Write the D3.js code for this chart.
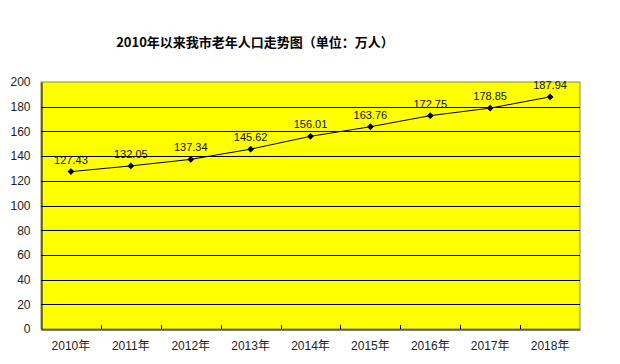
<!DOCTYPE html>
<html>
<head>
<meta charset="utf-8">
<script src="https://cdn.jsdelivr.net/npm/d3@7"></script>
<style>
html,body{margin:0;padding:0;background:#fff;}
svg{display:block;}
</style>
</head>
<body>
<svg id="chart" width="620" height="364"></svg>
<script>
const title = "2010年以来我市老年人口走势图（单位：万人）";
const categories = ["2010年","2011年","2012年","2013年","2014年","2015年","2016年","2017年","2018年"];
const values = [127.43, 132.05, 137.34, 145.62, 156.01, 163.76, 172.75, 178.85, 187.94];
const valueLabels = ["127.43","132.05","137.34","145.62","156.01","163.76","172.75","178.85","187.94"];
const yTicks = [0,20,40,60,80,100,120,140,160,180,200];

const svg = d3.select("#chart");
const m = {left:41, right:580, top:82, bottom:329};

const x = d3.scaleBand().domain(categories).range([m.left, m.right]).padding(0);
const y = d3.scaleLinear().domain([0,200]).range([m.bottom, m.top]);

svg.append("text").attr("x",255).attr("y",47).attr("text-anchor","middle")
  .attr("font-family","'Noto Sans CJK SC', sans-serif").attr("font-weight","bold")
  .attr("font-size",13).attr("fill","#000").text(title);

svg.append("rect").attr("x",m.left).attr("y",m.top).attr("width",m.right-m.left).attr("height",m.bottom-m.top)
  .attr("fill","#ffff00").attr("stroke","#8a8a50").attr("stroke-width",1);

// gridlines
svg.append("g").selectAll("line").data(yTicks.filter(d=>d>0 && d<200)).join("line")
  .attr("x1",m.left).attr("x2",m.right)
  .attr("y1",d=>Math.round(y(d))+0.5).attr("y2",d=>Math.round(y(d))+0.5)
  .attr("stroke","#000").attr("stroke-width",1);

// y axis
const yAxis = svg.append("g").attr("transform",`translate(${m.left+0.5},0)`)
  .call(d3.axisLeft(y).tickValues(yTicks).tickSize(0).tickPadding(11));
yAxis.select(".domain").attr("stroke","#000");
yAxis.selectAll("text").attr("font-family","'Liberation Sans', Arial, sans-serif").attr("font-size",12).attr("fill","#222");

// x axis
const xAxis = svg.append("g").attr("transform",`translate(0,${m.bottom+0.5})`)
  .call(d3.axisBottom(x).tickSize(0).tickPadding(12));
xAxis.select(".domain").attr("stroke","#000");
xAxis.selectAll("text").attr("font-family","'Liberation Sans', 'Noto Sans CJK SC', sans-serif").attr("font-size",12).attr("fill","#222");
// category separator ticks (inside)
svg.append("g").selectAll("line").data(categories.slice(1)).join("line")
  .attr("x1",d=>Math.round(x(d))+0.5).attr("x2",d=>Math.round(x(d))+0.5)
  .attr("y1",m.bottom-4).attr("y2",m.bottom)
  .attr("stroke","#000");

// line
const cx = d => x(d) + x.bandwidth()/2;
const line = d3.line().x((d,i)=>cx(categories[i])).y(d=>y(d));
svg.append("path").datum(values).attr("d",line).attr("fill","none").attr("stroke","#000").attr("stroke-width",1);

// markers
svg.append("g").selectAll("path").data(values).join("path")
  .attr("transform",(d,i)=>`translate(${cx(categories[i])},${y(d)})`)
  .attr("d",d3.symbol(d3.symbolDiamond2,30)())
  .attr("fill","#000018");

// labels
svg.append("g").selectAll("text").data(values).join("text")
  .attr("x",(d,i)=>cx(categories[i]))
  .attr("y",d=>y(d)-8)
  .attr("text-anchor","middle")
  .attr("font-family","'Liberation Sans', Arial, sans-serif").attr("font-size",11).attr("fill","#111")
  .text((d,i)=>valueLabels[i]);
</script>
</body>
</html>
